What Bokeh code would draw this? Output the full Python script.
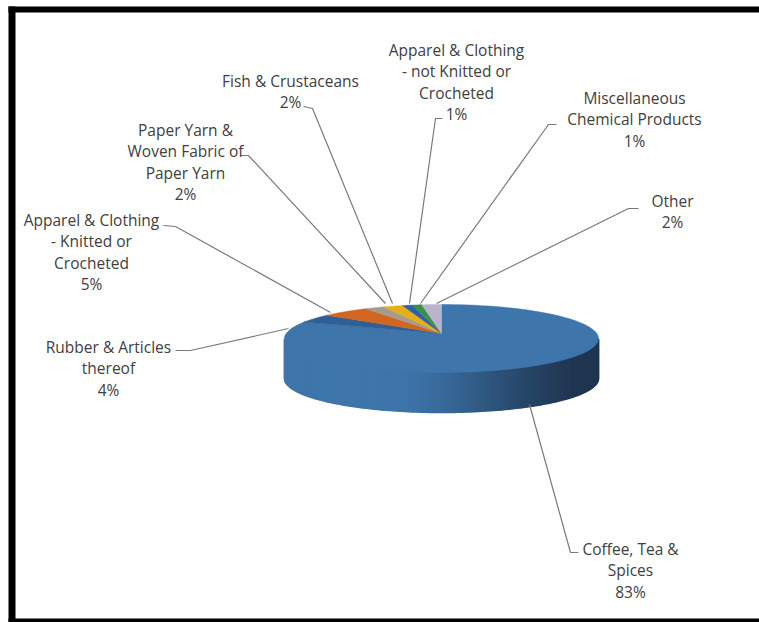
import numpy as np
from bokeh.plotting import figure
from bokeh.models import Range1d
from bokeh.core.properties import value
from bokeh.embed import file_html
from bokeh.resources import INLINE

categories = ["Coffee, Tea &\nSpices", "Rubber & Articles\nthereof",
              "Apparel & Clothing\n- Knitted or\nCrocheted", "Paper Yarn &\nWoven Fabric of\nPaper Yarn",
              "Fish & Crustaceans", "Apparel & Clothing\n- not Knitted or\nCrocheted",
              "Miscellaneous\nChemical Products", "Other"]
shares = [83, 4, 5, 2, 2, 1, 1, 2]
colors = ["#3E76AC", "#2F5F93", "#D0661F", "#A59A8C", "#E5AE1C", "#2F5FA8", "#3E8F4A", "#B9B4CC"]

# layout (page pixels)
CX, CY, RX, RY, DEPTH = 441, 338, 157, 34, 40
APEX_Y = 333
label_x = [630, 108, 91, 185, 290, 456, 634, 672]
label_y = [537, 335, 208, 118, 69, 38, 86, 189]
leader_x = [[578, 570, 529], [175, 190, 288], [163, 175, 330], [240, 248, 385],
            [303, 312, 392], [442, 435, 409], [556, 548, 420], [638, 628, 436]]
leader_y = [[552, 552, 404], [350, 350, 328], [225, 226, 312], [155, 155, 303],
            [106, 108, 303], [118, 118, 303], [124, 124, 303], [208, 208, 303]]

p = figure(width=759, height=622, output_backend="svg", toolbar_location=None,
           x_range=Range1d(0, 759), y_range=Range1d(622, 0), min_border=0,
           outline_line_color=None)
p.axis.visible = False
p.grid.visible = False
p.background_fill_color = "white"
p.border_fill_color = "white"

# frame: top and bottom rules run off the right edge, left rule only
p.quad(left=[8, 8, 8], right=[759, 15, 759], top=[6, 6, 618], bottom=[12, 622, 622],
       fill_color="black", line_color=None)

def pt(a):
    return CX + RX*np.sin(a), CY - RY*np.cos(a)

# side wall shaded in vertical strips
n = 120
ts = np.linspace(np.pi/2, 3*np.pi/2, n+1)
c0 = np.array([0x3E, 0x76, 0xAC]); c1 = np.array([0x1F, 0x35, 0x50])
for i in range(n):
    a = ts[i:i+2]
    x, y = pt(a)
    f = np.clip((np.mean(x) - (CX-60)) / (RX+60), 0, 1)
    f = f*f*(3-2*f)
    col = "#%02x%02x%02x" % tuple((c0 + (c1-c0)*f).astype(int))
    p.patch(list(x)+list(x[::-1]), list(y)+list((y+DEPTH)[::-1]), fill_color=col, line_color=col, line_width=1.5)

# top face wedges
fr = np.cumsum([0]+shares)/sum(shares)*2*np.pi
for i, c in enumerate(colors):
    a = np.linspace(fr[i], fr[i+1], 120)
    x, y = pt(a)
    p.patch([CX]+list(x), [APEX_Y]+list(y), fill_color=c, line_color=c, line_width=0.5)

# leaders and labels
for i in range(len(shares)):
    p.line(leader_x[i], leader_y[i], line_color="#7a7a7a", line_width=1.2)
    txt = f"{categories[i]}\n{shares[i]}%"
    p.text([label_x[i]], [label_y[i]], text=[txt], text_align="center", text_baseline="top",
           text_font=value("Open Sans"), text_font_size="15.5px", text_color="#404040", text_line_height=0.98)

open("out.html", "w").write(file_html(p, INLINE))
